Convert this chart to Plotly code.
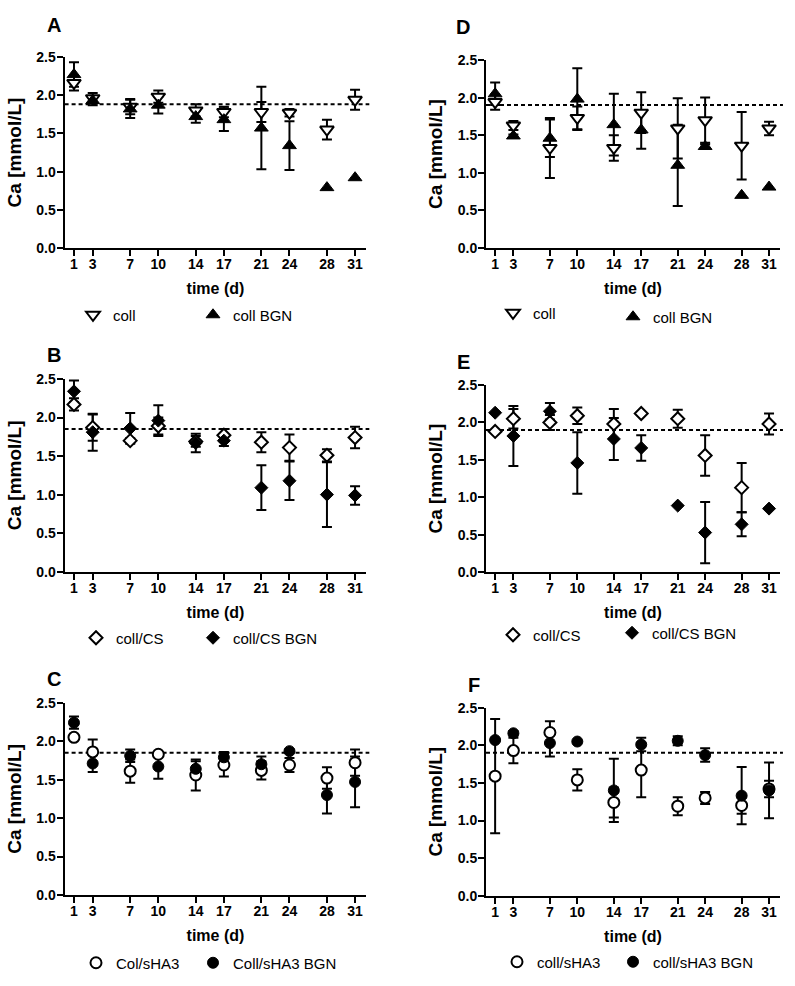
import plotly.graph_objects as go

W, H = 795, 986

# ---------------- data ----------------
days = [1, 3, 7, 10, 14, 17, 21, 24, 28, 31]
y_tick_vals = [0.0, 0.5, 1.0, 1.5, 2.0, 2.5]

# Panel A: coll / coll BGN
a_coll = [2.16, 1.96, 1.85, 1.98, 1.80, 1.78, 1.78, 1.77, 1.55, 1.94]
a_coll_err = [0.10, 0.07, 0.10, 0.08, 0.08, 0.07, 0.13, 0.05, 0.13, 0.13]
a_bgn = [2.27, 1.93, 1.82, 1.87, 1.72, 1.68, 1.57, 1.34, 0.79, 0.92]
a_bgn_err = [0.16, 0.06, 0.12, 0.11, 0.08, 0.15, 0.54, 0.32, 0, 0]
a_baseline = 1.88

# Panel B: coll/CS / coll/CS BGN
b_coll = [2.17, 1.87, 1.70, 1.89, 1.69, 1.77, 1.68, 1.61, 1.51, 1.74]
b_coll_err = [0.08, 0.17, 0.03, 0.11, 0.07, 0.08, 0.13, 0.17, 0.08, 0.14]
b_bgn = [2.34, 1.81, 1.86, 1.96, 1.67, 1.70, 1.09, 1.18, 1.00, 0.99]
b_bgn_err = [0.14, 0.24, 0.20, 0.20, 0.12, 0.07, 0.29, 0.25, 0.42, 0.12]
b_baseline = 1.85

# Panel C: Col/sHA3 / Coll/sHA3 BGN
c_coll = [2.05, 1.86, 1.61, 1.83, 1.56, 1.69, 1.62, 1.69, 1.52, 1.72]
c_coll_err = [0.03, 0.16, 0.15, 0.03, 0.20, 0.15, 0.12, 0.09, 0.14, 0.17]
c_bgn = [2.24, 1.71, 1.81, 1.67, 1.64, 1.79, 1.70, 1.87, 1.30, 1.47]
c_bgn_err = [0.08, 0.11, 0.08, 0.16, 0.10, 0.07, 0.10, 0.02, 0.24, 0.33]
c_baseline = 1.85

# Panel D: coll / coll BGN
d_coll = [1.94, 1.63, 1.33, 1.73, 1.33, 1.80, 1.59, 1.70, 1.36, 1.59]
d_coll_err = [0.10, 0.06, 0.40, 0.15, 0.17, 0.27, 0.40, 0.30, 0.45, 0.09]
d_bgn = [2.05, 1.49, 1.46, 1.98, 1.64, 1.57, 1.10, 1.35, 0.70, 0.81]
d_bgn_err = [0.15, 0.02, 0.25, 0.41, 0.41, 0.25, 0.54, 0.03, 0, 0]
d_baseline = 1.90

# Panel E: coll/CS / coll/CS BGN
e_coll = [1.88, 2.05, 2.00, 2.09, 1.98, 2.12, 2.05, 1.56, 1.13, 1.98]
e_coll_err = [0, 0.13, 0.10, 0.11, 0.20, 0, 0.12, 0.27, 0.33, 0.14]
e_bgn = [2.13, 1.82, 2.15, 1.46, 1.78, 1.66, 0.89, 0.53, 0.64, 0.85]
e_bgn_err = [0, 0.40, 0.11, 0.41, 0.28, 0.17, 0, 0.41, 0.16, 0]
e_baseline = 1.90

# Panel F: coll/sHA3 / coll/sHA3 BGN
f_coll = [1.59, 1.93, 2.17, 1.54, 1.24, 1.67, 1.19, 1.30, 1.20, 1.42]
f_coll_err = [0.76, 0.17, 0.15, 0.14, 0.20, 0.36, 0.12, 0.08, 0.11, 0.11]
f_bgn = [2.07, 2.16, 2.03, 2.05, 1.40, 2.01, 2.06, 1.87, 1.33, 1.40]
f_bgn_err = [0.02, 0.03, 0.18, 0.01, 0.42, 0.09, 0.06, 0.09, 0.38, 0.37]
f_baseline = 1.90

# ---------------- layout / style ----------------
FONT = "Liberation Sans, Arial, Helvetica, sans-serif"
X_RANGE = [0, 32.2]

panels = [
    dict(letter="A", idx=1, open_=(a_coll, a_coll_err, "coll"), fill=(a_bgn, a_bgn_err, "coll BGN"),
         sym_open="triangle-down", sym_fill="triangle-up", msize=12, base=a_baseline,
         xd=(64.6, 366.3), yd=(57, 248), lpos=(54, 25), leg=((93, 315), (213, 315))),
    dict(letter="B", idx=2, open_=(b_coll, b_coll_err, "coll/CS"), fill=(b_bgn, b_bgn_err, "coll/CS BGN"),
         sym_open="diamond", sym_fill="diamond", msize=10, base=b_baseline,
         xd=(64.6, 366.3), yd=(379, 571.7), lpos=(54, 355), leg=((96, 638), (213, 638))),
    dict(letter="C", idx=3, open_=(c_coll, c_coll_err, "Col/sHA3"), fill=(c_bgn, c_bgn_err, "Coll/sHA3 BGN"),
         sym_open="circle", sym_fill="circle", msize=11, base=c_baseline,
         xd=(64.6, 366.3), yd=(702.7, 895), lpos=(54, 679), leg=((96, 963), (213, 963))),
    dict(letter="D", idx=4, open_=(d_coll, d_coll_err, "coll"), fill=(d_bgn, d_bgn_err, "coll BGN"),
         sym_open="triangle-down", sym_fill="triangle-up", msize=12, base=d_baseline,
         xd=(486, 780), yd=(60, 248), lpos=(463, 27), leg=((513, 313), (633, 317))),
    dict(letter="E", idx=5, open_=(e_coll, e_coll_err, "coll/CS"), fill=(e_bgn, e_bgn_err, "coll/CS BGN"),
         sym_open="diamond", sym_fill="diamond", msize=10, base=e_baseline,
         xd=(486, 780), yd=(385, 572.3), lpos=(463, 362), leg=((513, 635), (632, 633))),
    dict(letter="F", idx=6, open_=(f_coll, f_coll_err, "coll/sHA3"), fill=(f_bgn, f_bgn_err, "coll/sHA3 BGN"),
         sym_open="circle", sym_fill="circle", msize=11, base=f_baseline,
         xd=(486, 780), yd=(707.7, 895.7), lpos=(474, 685), leg=((517, 962), (633, 962))),
]

fig = go.Figure()
layout = dict(
    template="none",
    width=W, height=H,
    margin=dict(l=0, r=0, t=0, b=0, autoexpand=False),
    paper_bgcolor="white", plot_bgcolor="white",
    font=dict(family=FONT, color="black"),
    shapes=[], annotations=[],
)

tick_font = dict(family=FONT, size=14, color="black", weight="bold")
title_font = dict(family=FONT, size=16, color="black", weight="bold")

leg_n = 0
for p in panels:
    i = p["idx"]
    xa = "x" if i == 1 else f"x{i}"
    ya = "y" if i == 1 else f"y{i}"
    xkey = "xaxis" if i == 1 else f"xaxis{i}"
    ykey = "yaxis" if i == 1 else f"yaxis{i}"

    # error bars (only where an error is visible)
    for vals, errs, _ in (p["open_"], p["fill"]):
        xs = [d for d, e in zip(days, errs) if e > 0]
        ys = [v for v, e in zip(vals, errs) if e > 0]
        es = [e for e in errs if e > 0]
        fig.add_trace(go.Scatter(
            x=xs, y=ys, mode="markers",
            marker=dict(size=1, color="rgba(0,0,0,0)"),
            error_y=dict(type="data", array=es, color="black", thickness=2, width=5),
            showlegend=False, hoverinfo="skip", xaxis=xa, yaxis=ya,
        ))

    series = [
        (p["open_"], p["sym_open"], "white", p["leg"][0]),
        (p["fill"], p["sym_fill"], "black", p["leg"][1]),
    ]
    for (vals, errs, name), sym, fillc, (mx, my) in series:
        leg_n += 1
        legkey = "legend" if leg_n == 1 else f"legend{leg_n}"
        fig.add_trace(go.Scatter(
            x=days, y=vals, mode="markers", name=name, legend=legkey,
            marker=dict(symbol=sym, size=p["msize"], color=fillc,
                        line=dict(color="black", width=2 if fillc == "white" else 1)),
            xaxis=xa, yaxis=ya,
        ))
        layout[legkey] = dict(
            orientation="h", x=(mx - 20) / W, y=1 - my / H, xanchor="left", yanchor="middle",
            font=dict(family=FONT, size=15, color="black"),
            bgcolor="rgba(0,0,0,0)", borderwidth=0,
            itemclick=False, itemdoubleclick=False,
        )

    layout[xkey] = dict(
        domain=[p["xd"][0] / W, p["xd"][1] / W], range=X_RANGE, anchor=ya,
        tickmode="array", tickvals=days, ticks="outside", ticklen=6, tickwidth=2,
        tickcolor="black", showline=True, linewidth=2, linecolor="black",
        showgrid=False, zeroline=False, tickfont=tick_font, fixedrange=True,
        automargin=False, ticklabelstandoff=-4,
        title=dict(text="time (d)", font=title_font, standoff=12),
    )
    layout[ykey] = dict(
        domain=[1 - p["yd"][1] / H, 1 - p["yd"][0] / H], range=[0, 2.5], anchor=xa,
        tickmode="array", tickvals=y_tick_vals, tickformat=".1f",
        ticks="outside", ticklen=6, tickwidth=2, tickcolor="black",
        showline=True, linewidth=2, linecolor="black",
        showgrid=False, zeroline=False, tickfont=tick_font, fixedrange=True,
        automargin=False, ticklabelstandoff=-2,
        title=dict(text="Ca [mmol/L]", font=dict(family=FONT, size=19, color="black", weight="bold"), standoff=10),
    )

    layout["shapes"].append(dict(
        type="line", xref=f"{xa} domain", yref=ya, x0=0, x1=1.01,
        y0=p["base"], y1=p["base"], layer="below",
        line=dict(color="black", width=2, dash="4px,3px"),
    ))

    layout["annotations"].append(dict(
        text=f"<b>{p['letter']}</b>", xref="paper", yref="paper",
        x=p["lpos"][0] / W, y=1 - p["lpos"][1] / H, xanchor="center", yanchor="middle",
        showarrow=False, font=dict(family=FONT, size=20, color="black"),
    ))

# panel C: tick marks cross the x axis (extra inside ticks)
layout["xaxis7"] = dict(
    overlaying="x3", anchor="y3", range=X_RANGE, tickmode="array", tickvals=days,
    ticks="inside", ticklen=7, tickwidth=2, tickcolor="black",
    showticklabels=False, showline=False, showgrid=False, zeroline=False, fixedrange=True,
    automargin=False,
)

fig.update_layout(**layout)
fig.write_html("out.html", config={"displayModeBar": False},
               post_script="document.body.style.margin='0px';")
